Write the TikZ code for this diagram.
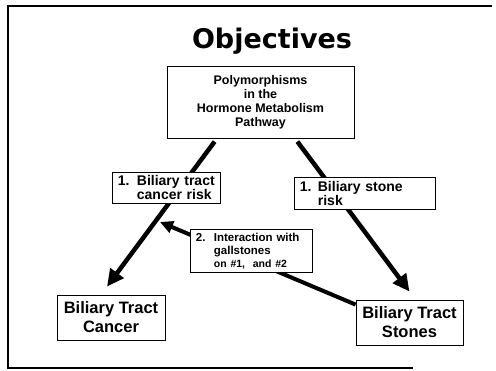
\documentclass[tikz,border=0pt]{standalone}
\usepackage{fontspec}
\setmainfont{Liberation Sans}
\newfontfamily\titlefont{DejaVu Sans}
\usetikzlibrary{arrows.meta}
\tikzset{
  box/.style={draw,fill=white,line width=0.8pt,inner sep=0pt,align=center},
  numbox/.style={draw,fill=white,line width=0.8pt,inner xsep=5.5pt,inner ysep=0pt,
    align=left,anchor=north west},
  heavy/.style={line width=4.5pt,-{Triangle[length=17pt,width=16pt]}},
  light/.style={line width=4pt,-{Triangle[length=13pt,width=12pt]}}
}
\newcommand{\numline}[2]{\makebox[#1][l]{#2}}
\begin{document}
\begin{tikzpicture}[x=1pt,y=-1pt]
  \useasboundingbox (0,0) rectangle (496,371);
  \draw [line width=2pt] (492,6) -- (8,6) -- (8,368) -- (413,368);
  \node (title) [anchor=base] at (272,49)
    {\titlefont\bfseries\fontsize{27}{30}\selectfont Objectives};
  \node (poly) [box,minimum width=187pt,minimum height=72pt,
    font=\bfseries\fontsize{12.5}{14}\selectfont] at (260.5,102)
    {Polymorphisms\\in the\\Hormone Metabolism\\Pathway};
  \node (cancer) [box,minimum width=108pt,minimum height=45pt,
    font=\bfseries\fontsize{16.5}{19}\selectfont] at (111,317.5)
    {Biliary Tract\\Cancer};
  \node (stones) [box,minimum width=107pt,minimum height=45pt,
    font=\bfseries\fontsize{16.5}{19}\selectfont] at (409.5,322.5)
    {Biliary Tract\\Stones};
  \coordinate (hit) at (160,222);
  % arrows first, labels go on top of them
  \draw [heavy,shorten <=4pt] ([xshift=-43.5pt]poly.south) -- ([shift={(-4pt,8pt)}]cancer.north);
  \draw [heavy,shorten <=4pt] ([xshift=34.5pt]poly.south) -- ([yshift=8pt]stones.north);
  \draw [light] ([yshift=-5pt]stones.north west) -- (hit);
  \node (riskc) [numbox,text width=97pt,minimum height=31pt,
    font=\bfseries\fontsize{14}{13}\selectfont] at (112,172)
    {\numline{19pt}{1.}Biliary tract\\\hspace*{19pt}cancer risk};
  \node (risks) [numbox,text width=130pt,minimum height=32pt,
    font=\bfseries\fontsize{14}{13}\selectfont] at (294,177)
    {\numline{18pt}{1.}Biliary stone\\\hspace*{18pt}risk};
  \node (inter) [numbox,text width=111pt,minimum height=43pt,
    font=\bfseries\fontsize{11.5}{13}\selectfont] at (190,229)
    {\numline{18pt}{2.}Interaction with\\\hspace*{18pt}gallstones\\
     \hspace*{18pt}{\fontsize{10.5}{13}\selectfont on \#1,\ \ and \#2}};
\end{tikzpicture}
\end{document}
